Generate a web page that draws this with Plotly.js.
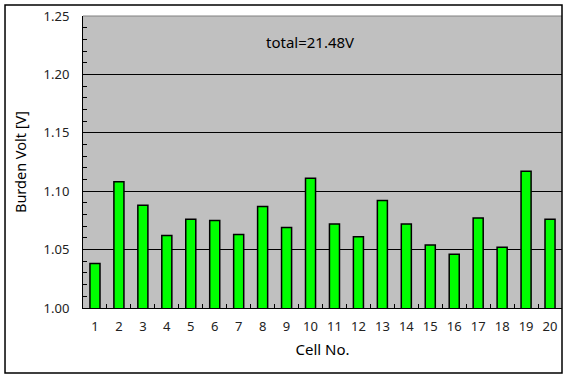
<!DOCTYPE html>
<html>
<head>
<meta charset="utf-8">
<script src="https://cdn.plot.ly/plotly-3.0.1.min.js"></script>
<style>html,body{margin:0;padding:0;background:#fff;}#chart{width:569px;height:379px;}</style>
</head>
<body>
<div id="chart"></div>
<script>
const cells = ["1","2","3","4","5","6","7","8","9","10","11","12","13","14","15","16","17","18","19","20"];
const burdenVolt = [1.038,1.108,1.088,1.062,1.076,1.075,1.063,1.087,1.069,1.111,1.072,1.061,1.092,1.072,1.054,1.046,1.077,1.052,1.117,1.076];
const yTicks = [1.00,1.05,1.10,1.15,1.20,1.25];
const totalLabel = "total=21.48V";

const trace = {
  type: 'bar',
  x: cells,
  y: burdenVolt,
  marker: {color: '#00FF00', line: {color: '#000000', width: 1.5}},
  hoverinfo: 'x+y'
};

const layout = {
  width: 569, height: 379,
  margin: {l: 83, r: 7, t: 16, b: 71, pad: 0},
  paper_bgcolor: '#ffffff',
  plot_bgcolor: '#C0C0C0',
  bargap: 0.58,
  showlegend: false,
  font: {family: 'Noto Sans, DejaVu Sans, sans-serif', color: '#222'},
  xaxis: {
    type: 'category',
    range: [-0.5, 19.5],
    tickson: 'boundaries',
    tickangle: 0,
    ticks: 'inside', ticklen: 4, tickcolor: '#000', tickwidth: 1,
    showline: true, linecolor: '#000', linewidth: 1,
    showgrid: false,
    tickfont: {size: 13, color: '#222'},
    ticklabelstandoff: 6,
    title: {text: 'Cell No.', font: {size: 15, color: '#000'}, standoff: 10},
    fixedrange: true
  },
  yaxis: {
    range: [1.0, 1.25],
    tickvals: yTicks,
    tickformat: '.2f',
    ticks: 'inside', ticklen: 4, tickcolor: '#000',
    minor: {dtick: 0.01, ticks: 'inside', ticklen: 4, tickcolor: '#000', showgrid: false},
    showline: true, linecolor: '#000', linewidth: 1,
    showgrid: true, gridcolor: '#000', gridwidth: 1,
    zeroline: false,
    tickfont: {size: 13, color: '#222'},
    ticklabelstandoff: 10,
    title: {text: 'Burden Volt [V]', font: {size: 14.5, color: '#000'}, standoff: 13},
    fixedrange: true
  },
  annotations: [{
    text: totalLabel, xref: 'paper', yref: 'paper', x: 0.474, y: 0.91,
    xanchor: 'center', yanchor: 'middle', showarrow: false,
    font: {size: 15, color: '#000'}
  }],
  shapes: [
    {type: 'line', xref: 'paper', yref: 'paper', x0: 0, x1: 1, y0: 1, y1: 1, line: {color: '#808080', width: 1}},
    {type: 'rect', xref: 'paper', yref: 'paper', x0: -0.1628, x1: 1.0, y0: -0.2226, y1: 1.0377, line: {color: '#000', width: 1.5}, fillcolor: 'rgba(0,0,0,0)', layer: 'above'}
  ]
};

Plotly.newPlot('chart', [trace], layout, {displayModeBar: false, staticPlot: true});
</script>
</body>
</html>
